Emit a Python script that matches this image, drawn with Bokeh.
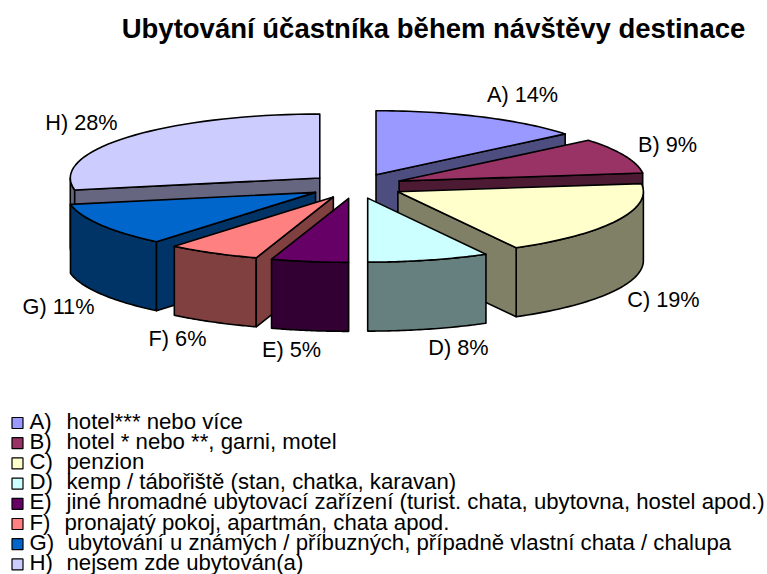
import math
from bokeh.plotting import figure
from bokeh.models import ColumnDataSource, Range1d
from bokeh.core.properties import value
from bokeh.embed import file_html
from bokeh.resources import INLINE

letters = ["A", "B", "C", "D", "E", "F", "G", "H"]
shares = [14, 9, 19, 8, 5, 6, 11, 28]
descriptions = [
    "hotel*** nebo více",
    "hotel * nebo **, garni, motel",
    "penzion",
    "kemp / tábořiště (stan, chatka, karavan)",
    "jiné hromadné ubytovací zařízení (turist. chata, ubytovna, hostel apod.)",
    "pronajatý pokoj, apartmán, chata apod.",
    "ubytování u známých / příbuzných, případně vlastní chata / chalupa",
    "nejsem zde ubytován(a)",
]
title = "Ubytování účastníka během návštěvy destinace"
top_colors = ["#9999FF", "#993366", "#FFFFCC", "#CCFFFF", "#660066", "#FF8080", "#0066CC", "#CCCCFF"]
wall_colors = ["#4D4D80", "#4D1A33", "#808066", "#668080", "#330033", "#804040", "#003366", "#666680"]

# layout
CX, CY, EX, EY, RX_R, RX_L, RY, DEPTH = 355.5, 185.5, 47, 12.5, 245.5, 249.5, 64, 69
DRAW_ORDER = [0, 7, 1, 6, 2, 5, 3, 4]
LABEL_XY = [(522, 94), (667, 144), (663, 299), (458, 347), (291, 349), (177, 338), (58, 306), (81, 122)]
DESC_X = [66, 66, 66, 66, 66, 64, 67, 66]
LEGEND_Y0, LEGEND_DY = 420.5, 20.2
FONT = value("Liberation Sans")

p = figure(width=767, height=574, x_range=Range1d(0, 767), y_range=Range1d(574, 0),
           output_backend="svg", toolbar_location=None, min_border=0)
p.axis.visible = False
p.grid.visible = False
p.outline_line_color = None
p.background_fill_color = "white"


def rim(ax, ay, a0, a1, n=40):
    pts = []
    for i in range(n + 1):
        t = math.radians(a0 + (a1 - a0) * i / n)
        st = math.sin(t)
        pts.append((ax + (RX_R if st >= 0 else RX_L) * st, ay - RY * math.cos(t)))
    return pts


def poly(pts, fill):
    p.patch([q[0] for q in pts], [q[1] for q in pts], fill_color=fill,
            line_color="black", line_width=1.6, line_join="round")


total = sum(shares)
angle = 0.0
slices = []
for v in shares:
    a1 = angle + 360.0 * v / total
    slices.append((angle, a1))
    angle = a1

for i in DRAW_ORDER:
    a0, a1 = slices[i]
    mid = math.radians((a0 + a1) / 2)
    ax = CX + EX * math.sin(mid)
    ay = CY - EY * math.cos(mid)
    wall = wall_colors[i]
    # rim wall: only the near half of the ellipse faces the viewer
    lo, hi = max(a0, 90), min(a1, 270)
    if hi > lo:
        arc = rim(ax, ay, lo, hi)
        poly(arc + [(x, y + DEPTH) for x, y in reversed(arc)], wall)
    # radial walls
    s = rim(ax, ay, a0, a0, 1)[0]
    e = rim(ax, ay, a1, a1, 1)[0]
    if math.sin(math.radians(a0)) < -1e-6:
        poly([(ax, ay), s, (s[0], s[1] + DEPTH), (ax, ay + DEPTH)], wall)
    if math.sin(math.radians(a1)) > 1e-6:
        poly([(ax, ay), e, (e[0], e[1] + DEPTH), (ax, ay + DEPTH)], wall)
    poly([(ax, ay)] + rim(ax, ay, a0, a1), top_colors[i])

labels = ColumnDataSource(dict(
    x=[q[0] for q in LABEL_XY], y=[q[1] for q in LABEL_XY],
    t=[f"{l}) {v}%" for l, v in zip(letters, shares)]))
p.text("x", "y", text="t", source=labels, text_font=FONT, text_font_size="21.7px",
       text_color="black", text_align="center", text_baseline="middle")

p.text([433], [28], text=[title], text_font=FONT, text_font_size="27.5px", text_font_style="bold",
       text_color="black", text_align="center", text_baseline="middle")

ys = [LEGEND_Y0 + k * LEGEND_DY for k in range(len(letters))]
legend = ColumnDataSource(dict(sw=[17] * len(letters), y=[y + 2 for y in ys], c=top_colors,
                               lx=[29] * len(letters), l=[f"{l})" for l in letters],
                               dx=DESC_X, ty=ys, d=descriptions))
p.scatter("sw", "y", source=legend, marker="square", size=11, fill_color="c",
          line_color="black", line_width=1.2)
p.text("lx", "ty", text="l", source=legend, text_font=FONT, text_font_size="22.2px",
       text_color="black", text_align="left", text_baseline="middle")
p.text("dx", "ty", text="d", source=legend, text_font=FONT, text_font_size="22.2px",
       text_color="black", text_align="left", text_baseline="middle")

open("out.html", "w").write(file_html(p, INLINE))
